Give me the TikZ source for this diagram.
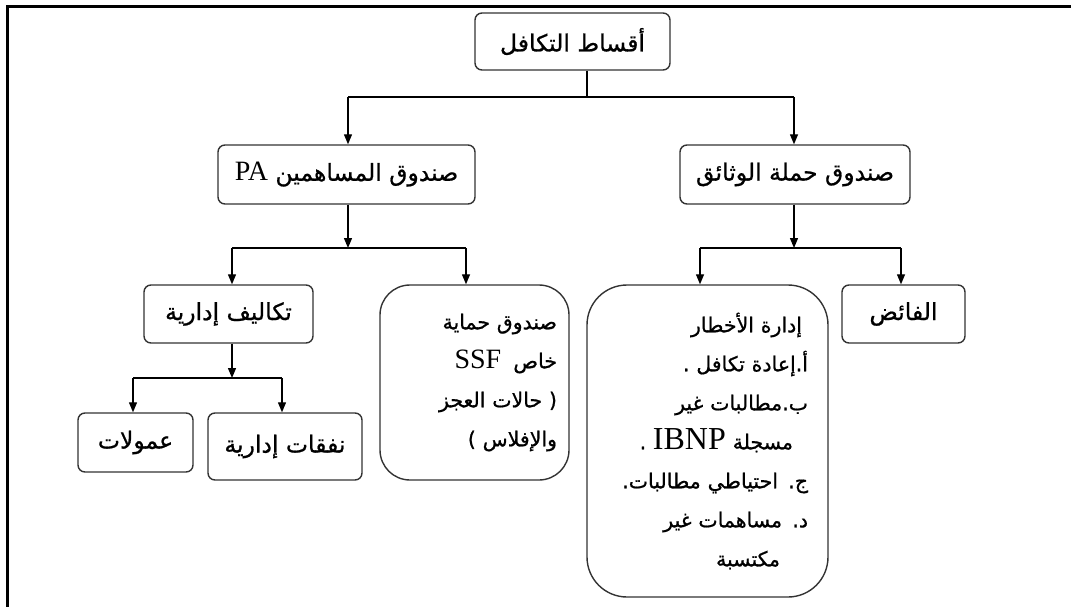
\documentclass[tikz,border=0pt]{standalone}
\usepackage{fontspec}
\usetikzlibrary{arrows.meta}
\TeXXeTstate=1
\newfontfamily\arabicfont[Script=Arabic,FakeBold=0.8]{DejaVu Sans}
\newfontfamily\latinfont{Liberation Serif}
% one right-to-left line
\newcommand{\rl}[1]{\beginR #1\endR}
% a Latin word inside an Arabic line
\newcommand{\lat}[2][27]{\beginL{\latinfont\fontsize{#1}{#1}\selectfont #2}\endL}

\begin{document}
\begin{tikzpicture}[x=1pt,y=-1pt,
  box/.style={draw=black!80, line width=1.4pt, rounded corners=7pt, inner sep=0pt,
              font=\arabicfont\fontsize{23.5}{26}\selectfont},
  tallbox/.style={box, align=right, font=\arabicfont\fontsize{20.5}{39}\selectfont},
  link/.style={line width=1.3pt, black},
  arr/.style={link, -{Triangle[length=10pt,width=8pt]}}]

\useasboundingbox (0,0) rectangle (1071,607);

% outer frame (left and top edges)
\draw[line width=3pt] (7,607) -- (7,7) -- (1071,7);

% ---- nodes ----
\node[box, minimum width=195pt, minimum height=57pt] (top) at (572.5,41.5)
  {\rl{أقساط التكافل}};
\node[box, minimum width=257pt, minimum height=59pt] (pa) at (346.5,174.5)
  {\rl{صندوق المساهمين \lat[28]{PA}}};
\node[box, minimum width=230pt, minimum height=59pt] (ph) at (795,174.5)
  {\rl{صندوق حملة الوثائق}};

\node[box, minimum width=169pt, minimum height=58pt] (adm) at (228.5,314)
  {\rl{تكاليف إدارية}};
\node[tallbox, rounded corners=30pt, minimum width=189pt, minimum height=195pt,
      text width=165pt] (ssf) at (474.5,382.5)
  {\rl{صندوق حماية}\\
   \rl{خاص\hspace{12pt}\lat[28]{SSF}}\\
   \rl{( حالات العجز}\\
   \rl{والإفلاس )}};
\node[tallbox, rounded corners=40pt, minimum width=241pt, minimum height=312pt,
      text width=201pt] (risk) at (707.5,441)
  {\rl{\hspace*{6pt}إدارة الأخطار}\\
   \rl{أ.إعادة تكافل .}\\
   \rl{ب.مطالبات غير}\\
   \rl{\hspace*{15pt}مسجلة \lat[32]{IBNP} .}\\
   \rl{ج. احتياطي مطالبات.}\\
   \rl{د.  مساهمات غير}\\
   \rl{\hspace*{28pt}مكتسبة}};
\node[box, minimum width=123pt, minimum height=58pt] (surplus) at (903.5,314)
  {\rl{الفائض}};

\node[box, minimum width=115pt, minimum height=59pt] (comm) at (135.5,442.5)
  {\rl{عمولات}};
\node[box, minimum width=154pt, minimum height=67pt] (exp) at (285,446.5)
  {\rl{نفقات إدارية}};

% ---- junctions ----
\coordinate (topJ) at (587,97);
\coordinate (topL) at (348,97);
\coordinate (topR) at (794,97);
\coordinate (paJ) at (348,248);
\coordinate (paL) at (232,248);
\coordinate (paR) at (466,248);
\coordinate (phJ) at (794,248);
\coordinate (phL) at (700,248);
\coordinate (phR) at (901,248);
\coordinate (admJ) at (232,378);
\coordinate (admL) at (133,378);
\coordinate (admR) at (282,378);

% ---- connectors ----
\draw[link] (top.south -| topJ) -- (topJ);
\draw[link] (topL) -- (topR);
\draw[arr] (topL) -- (pa.north -| topL);
\draw[arr] (topR) -- (ph.north -| topR);

\draw[arr] (pa.south -| paJ) -- (paJ);
\draw[link] (paL) -- (paR);
\draw[arr] (paL) -- (adm.north -| paL);
\draw[arr] (paR) -- (ssf.north -| paR);

\draw[arr] (ph.south -| phJ) -- (phJ);
\draw[link] (phL) -- (phR);
\draw[arr] (phL) -- (risk.north -| phL);
\draw[arr] (phR) -- (surplus.north -| phR);

\draw[arr] (adm.south -| admJ) -- (admJ);
\draw[link] (admL) -- (admR);
\draw[arr] (admL) -- (comm.north -| admL);
\draw[arr] (admR) -- (exp.north -| admR);
\end{tikzpicture}
\end{document}
